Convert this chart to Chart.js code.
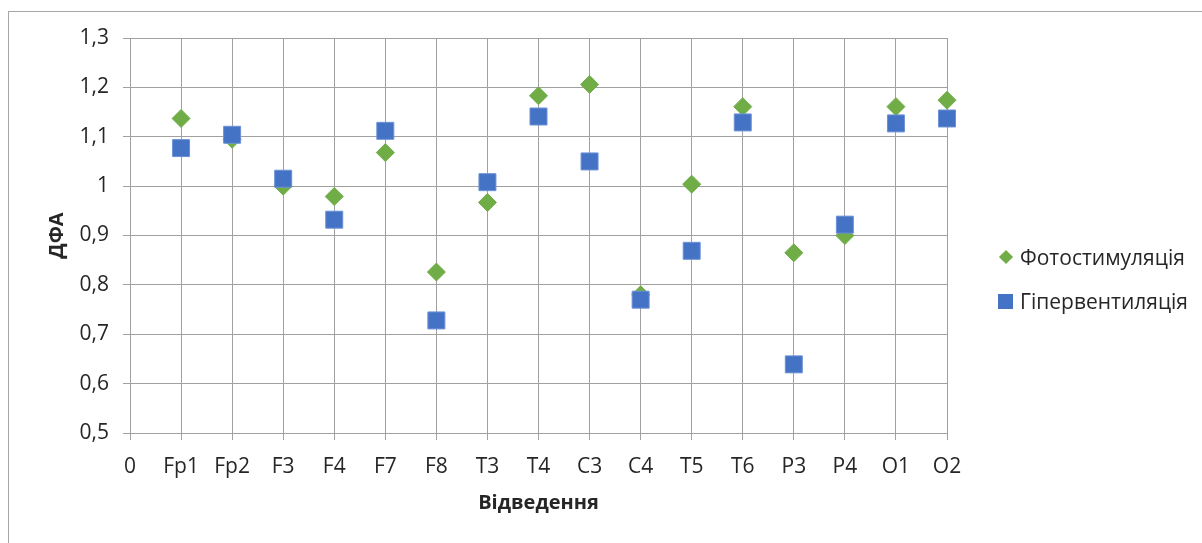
<!DOCTYPE html>
<html>
<head>
<meta charset="utf-8">
<script src="https://cdn.jsdelivr.net/npm/chart.js@4.4.0/dist/chart.umd.min.js"></script>
<style>
  html, body { margin: 0; padding: 0; background: #fff; }
  #wrap { position: relative; width: 1202px; height: 543px; overflow: hidden; }
  #frame { position: absolute; left: 8px; top: 11px; width: 1220px; height: 560px; border: 1px solid #a6a6a6; box-sizing: border-box; }
  #chartCanvas { position: absolute; left: 0; top: 0; }
  .legend { position: absolute; left: 998px; font-family: "Open Sans", sans-serif; font-size: 21px; color: #262626; }
  .legend div { height: 44px; line-height: 44px; display: flex; align-items: center; }
  .mk { display: inline-block; margin-right: 7px; }
  .mk.diamond { width: 10px; height: 10px; background: #70ad47; transform: rotate(45deg); margin-left: 3px; margin-right: 9px; }
  .mk.square { width: 15px; height: 15px; background: #4472c4; }
</style>
</head>
<body>
<div id="wrap">
  <div id="frame"></div>
  <canvas id="chartCanvas" width="1202" height="543"></canvas>
  <div class="legend" style="top:235px;">
    <div><span class="mk diamond"></span>Фотостимуляція</div>
    <div><span class="mk square"></span>Гіпервентиляція</div>
  </div>
</div>
<script>
var leads = ["0", "Fp1", "Fp2", "F3", "F4", "F7", "F8", "T3", "T4", "C3", "C4", "T5", "T6", "P3", "P4", "O1", "O2"];
var photoStim = [null, 1.137, 1.095, 1.0, 0.979, 1.068, 0.826, 0.967, 1.183, 1.206, 0.78, 1.004, 1.161, 0.865, 0.9, 1.161, 1.174];
var hyperVent = [null, 1.077, 1.104, 1.015, 0.932, 1.112, 0.728, 1.008, 1.141, 1.05, 0.77, 0.869, 1.129, 0.639, 0.922, 1.127, 1.137];
var yMin = 0.5;
var yMax = 1.3;
var yStep = 0.1;

var gridColor = "#a0a0a0";
var textColor = "#262626";
var myChart;

function renderChart() {
  var ctx = document.getElementById("chartCanvas").getContext("2d");
  myChart = new Chart(ctx, {
    type: "line",
    data: {
      labels: leads,
      datasets: [
        {
          label: "Гіпервентиляція",
          data: hyperVent,
          showLine: false,
          pointStyle: "rect",
          pointRadius: 12,
          pointHoverRadius: 12,
          backgroundColor: "#4472c4",
          borderColor: "#6b91d6",
          borderWidth: 1,
        },
        {
          label: "Фотостимуляція",
          data: photoStim,
          showLine: false,
          pointStyle: "rectRot",
          pointRadius: 9,
          pointHoverRadius: 9,
          backgroundColor: "#70ad47",
          borderColor: "#70ad47",
          borderWidth: 1,
        },
      ],
    },
    options: {
      responsive: false,
      animation: false,
      layout: {
        padding: { top: 38, left: 0, right: 255, bottom: 0 },
      },
      plugins: {
        legend: { display: false },
        tooltip: { enabled: false },
      },
      scales: {
        x: {
          type: "category",
          offset: false,
          afterFit: function (scale) {
            scale.height = 110;
          },
          grid: {
            offset: false,
            color: gridColor,
            lineWidth: 1,
            tickLength: 7,
          },
          border: { color: gridColor },
          ticks: {
            color: textColor,
            padding: 14,
            maxRotation: 0,
            autoSkip: false,
            font: { family: "Open Sans", size: 21 },
          },
          title: {
            display: true,
            text: "Відведення",
            color: textColor,
            font: { family: "Open Sans", size: 20, weight: "bold" },
            padding: { top: 0, bottom: 28 },
          },
        },
        y: {
          min: yMin,
          max: yMax,
          afterFit: function (scale) {
            scale.width = 130;
          },
          grid: {
            color: gridColor,
            lineWidth: 1,
            tickLength: 7,
          },
          border: { color: gridColor },
          ticks: {
            stepSize: yStep,
            color: textColor,
            padding: 14,
            font: { family: "Open Sans", size: 21 },
            callback: function (value) {
              return String(Math.round(value * 10) / 10).replace(".", ",");
            },
          },
          title: {
            display: true,
            text: "ДФА",
            color: textColor,
            font: { family: "Open Sans", size: 20, weight: "bold" },
            padding: { top: 45, bottom: 0 },
          },
        },
      },
    },
  });
}
renderChart();
</script>
</body>
</html>
